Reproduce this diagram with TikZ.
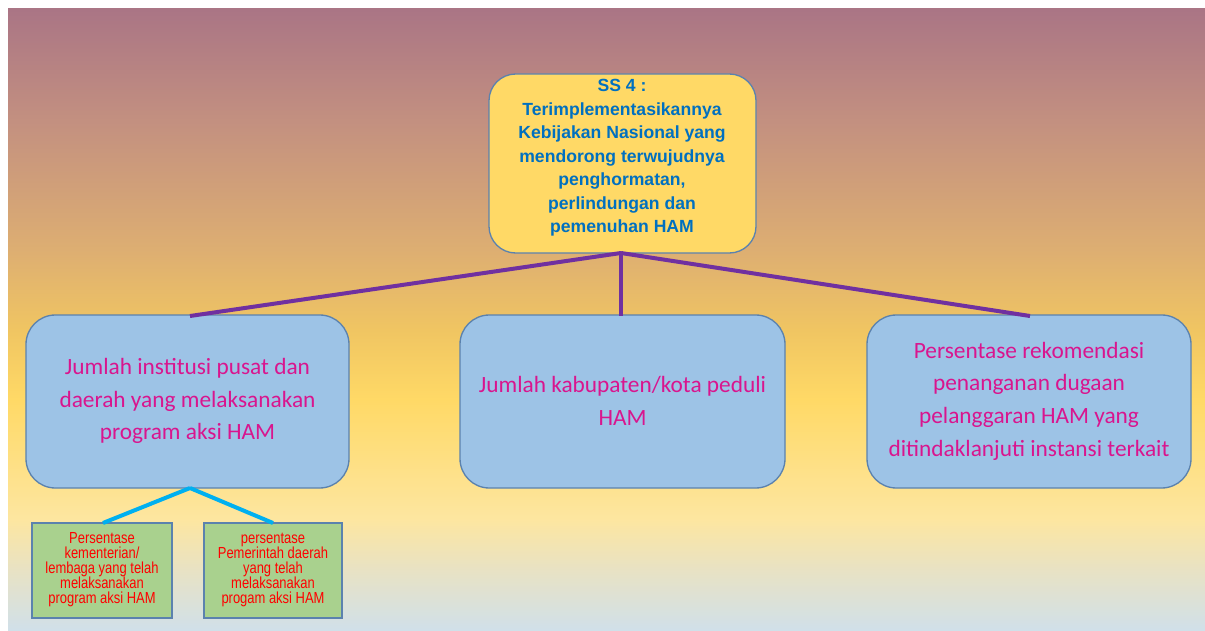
\documentclass[tikz,border=0pt]{standalone}
\usepackage{fontspec}
\setmainfont{Carlito}
\newfontfamily\titlefont{Liberation Sans}
\newfontfamily\narrowfont[FakeStretch=0.81]{Liberation Sans}
\definecolor{bgA}{HTML}{AA7585}
\definecolor{bgB}{HTML}{C39080}
\definecolor{bgC}{HTML}{DDAE72}
\definecolor{bgD}{HTML}{F0C562}
\definecolor{bgE}{HTML}{FFD966}
\definecolor{bgF}{HTML}{FDE6A0}
\definecolor{bgG}{HTML}{E8E2C4}
\definecolor{bgH}{HTML}{D0E0EA}
\definecolor{topfill}{HTML}{FFD966}
\definecolor{boxedge}{HTML}{5B82AE}
\definecolor{bluefill}{HTML}{9DC3E6}
\definecolor{greenfill}{HTML}{A9D18E}
\definecolor{titleblue}{HTML}{0070C0}
\definecolor{magentatext}{HTML}{D9158E}
\definecolor{purpleline}{HTML}{7030A0}
\definecolor{cyanline}{HTML}{00B0F0}
\pgfdeclareverticalshading{bgshade}{100bp}{%
  color(0bp)=(bgH); color(25bp)=(bgH); color(29.9bp)=(bgG); color(34bp)=(bgF);
  color(43.6bp)=(bgE); color(49.2bp)=(bgD); color(55.7bp)=(bgC);
  color(66bp)=(bgB); color(75bp)=(bgA); color(100bp)=(bgA)}
\tikzset{
  topbox/.style={draw=boxedge, line width=1pt, fill=topfill, rounded corners=20pt},
  bluebox/.style={draw=boxedge, line width=1pt, fill=bluefill, rounded corners=22pt},
  greenbox/.style={draw=boxedge, line width=1pt, fill=greenfill},
  toptext/.style={align=center, text=titleblue, font=\titlefont\bfseries\fontsize{13.2}{17.6}\selectfont},
  bluetext/.style={align=center, text=magentatext, font=\fontsize{17.5}{24.5}\selectfont},
  greentext/.style={align=center, text=red, font=\narrowfont\fontsize{12}{11.3}\selectfont},
  purplelink/.style={draw=purpleline, line width=3pt},
  cyanlink/.style={draw=cyanline, line width=3pt}
}
\begin{document}
\begin{tikzpicture}[x=0.75pt, y=-0.75pt]
\useasboundingbox (0,0) rectangle (1205,631);
\fill[white] (0,0) rectangle (1205,631);
\shade[shading=bgshade] (8,9) rectangle (1205,631);
% boxes
\draw[topbox] (489,74) rectangle (756,253);
\draw[bluebox] (26,315) rectangle (349,488);
\draw[bluebox] (460,315) rectangle (785,488);
\draw[bluebox] (867,315) rectangle (1191,488);
\draw[greenbox] (32,523) rectangle (172,618);
\draw[greenbox] (204,523) rectangle (342,618);
% anchors
\coordinate (topbot) at (621,253);
\coordinate (lefttop) at (190,316);
\coordinate (midtop) at (621,316);
\coordinate (righttop) at (1030,316);
\coordinate (leftbot) at (190,488);
\coordinate (g1top) at (103,523);
\coordinate (g2top) at (273,523);
% connectors
\draw[purplelink] (topbot) -- (lefttop);
\draw[purplelink] (topbot) -- (midtop);
\draw[purplelink] (topbot) -- (righttop);
\draw[cyanlink] (leftbot) -- (g1top);
\draw[cyanlink] (leftbot) -- (g2top);
% texts
\node[toptext] (ss) at (622,158) {SS 4 :\\Terimplementasikannya\\Kebijakan Nasional yang\\mendorong terwujudnya\\penghormatan,\\perlindungan dan\\pemenuhan HAM};
\node[bluetext] (ind1) at (187.5,401) {Jumlah institusi pusat dan\\daerah yang melaksanakan\\program aksi HAM};
\node[bluetext] (ind2) at (622.5,401) {Jumlah kabupaten/kota peduli\\HAM};
\node[bluetext] (ind3) at (1029,401) {Persentase rekomendasi\\penanganan dugaan\\pelanggaran HAM yang\\ditindaklanjuti instansi terkait};
\node[greentext] (sub1) at (102,570) {Persentase\\kementerian/\\lembaga yang telah\\melaksanakan\\program aksi HAM};
\node[greentext] (sub2) at (273,570) {persentase\\Pemerintah daerah\\yang telah\\melaksanakan\\progam aksi HAM};
\end{tikzpicture}
\end{document}
